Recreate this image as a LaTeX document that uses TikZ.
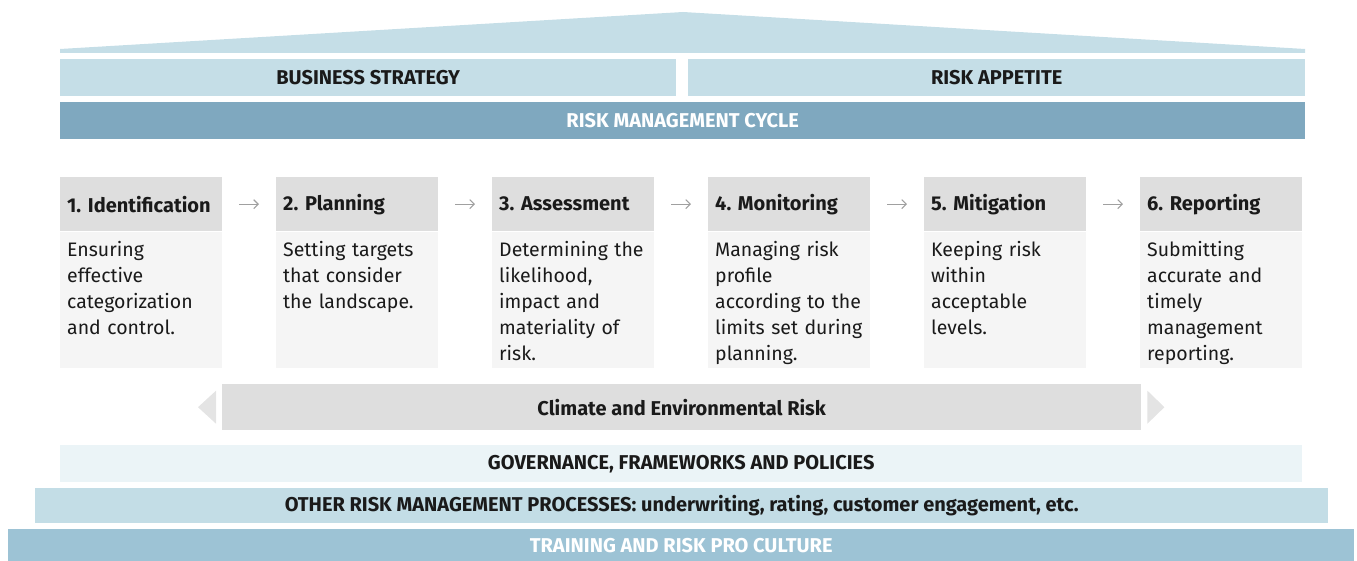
\documentclass[tikz,border=0pt]{standalone}
\usepackage{fontspec}
\setmainfont{Fira Sans}
\usepackage{tikz}
\usetikzlibrary{calc, positioning, arrows.meta}
\usepackage{xcolor}
\definecolor{roofBlue}{HTML}{C5DEE7}
\definecolor{cycleBlue}{HTML}{7FA8BF}
\definecolor{headGray}{HTML}{DEDEDE}
\definecolor{bodyGray}{HTML}{F5F5F5}
\definecolor{govBlue}{HTML}{EBF4F7}
\definecolor{otherBlue}{HTML}{C3DDE6}
\definecolor{trainBlue}{HTML}{9DC3D5}
\definecolor{arrowGray}{HTML}{A0A0A0}
\definecolor{textDark}{HTML}{1A1A1A}
\tikzset{
  bar/.style={inner sep=0pt, anchor=north west, text=textDark,
              font=\fontsize{20}{22}\selectfont\bfseries},
  head/.style={fill=headGray, inner xsep=7pt, inner ysep=0pt, minimum height=54pt,
               text width=148pt, align=left, anchor=north west, text=textDark,
               font=\fontsize{20}{22}\selectfont\bfseries},
  body/.style={fill=bodyGray, inner xsep=7pt, inner ysep=0pt, minimum height=136pt,
               text width=148pt, align=left, text=textDark,
               font=\fontsize{19.5}{26}\selectfont},
  flow/.style={draw=arrowGray, line width=1.1pt, -{Straight Barb[length=4.5pt, width=9pt]},
               shorten <=17pt, shorten >=17pt}
}
\newcommand{\stepbody}[1]{\parbox[c][122pt][t]{148pt}{\raggedright\strut #1}}
\frenchspacing

\begin{document}
\begin{tikzpicture}[x=1pt, y=-1pt]
  \useasboundingbox (0,0) rectangle (1357,561);

  % roof
  \fill[roofBlue] (60,53) -- (60,49) -- (683,12) -- (1305,49) -- (1305,53) -- cycle;

  % top bars
  \node[bar, fill=roofBlue, minimum width=616pt, minimum height=37pt] (strategy) at (60,59) {BUSINESS STRATEGY};
  \node[bar, fill=roofBlue, minimum width=617pt, minimum height=37pt] (appetite) at (688,59) {RISK APPETITE};
  \node[bar, fill=cycleBlue, text=white, minimum width=1245pt, minimum height=37pt] (cycle) at (60,102) {RISK MANAGEMENT CYCLE};

  % cycle steps
  \node[head] (h1) at (60,177)   {1. Identification};
  \node[head] (h2) at (276,177)  {2. Planning};
  \node[head] (h3) at (492,177)  {3. Assessment};
  \node[head] (h4) at (708,177)  {4. Monitoring};
  \node[head] (h5) at (924,177)  {5. Mitigation};
  \node[head] (h6) at (1140,177) {6. Reporting};

  \node[body, below=0pt of h1] (b1) {\stepbody{Ensuring\\effective\\categorization\\and control.}};
  \node[body, below=0pt of h2] (b2) {\stepbody{Setting targets\\that consider\\the landscape.}};
  \node[body, below=0pt of h3] (b3) {\stepbody{Determining the\\likelihood,\\impact and\\materiality of\\risk.}};
  \node[body, below=0pt of h4] (b4) {\stepbody{Managing risk\\profile\\according to the\\limits set during\\planning.}};
  \node[body, below=0pt of h5] (b5) {\stepbody{Keeping risk\\within\\acceptable\\levels.}};
  \node[body, below=0pt of h6] (b6) {\stepbody{Submitting\\accurate and\\timely\\management\\reporting.}};

  \foreach \a/\b in {h1/h2, h2/h3, h3/h4, h4/h5, h5/h6}
    \draw[flow] (\a) -- (\b);

  % climate band
  \node[bar, fill=headGray, minimum width=919pt, minimum height=46pt] (climate) at (222,384) {Climate and Environmental Risk};
  \fill[headGray!80] ($(climate.west)+(-6,-16.5)$) -- ($(climate.west)+(-24,0)$) -- ($(climate.west)+(-6,16.5)$) -- cycle;
  \fill[headGray!80] ($(climate.east)+(6,-16.5)$) -- ($(climate.east)+(23,0)$) -- ($(climate.east)+(6,16.5)$) -- cycle;

  % foundations
  \node[bar, fill=govBlue, minimum width=1242pt, minimum height=37pt] (governance) at (60,445) {GOVERNANCE, FRAMEWORKS AND POLICIES};
  \node[bar, fill=otherBlue, minimum width=1293pt, minimum height=35pt] (processes) at (35,488) {OTHER RISK MANAGEMENT PROCESSES: underwriting, rating, customer engagement, etc.};
  \node[bar, fill=trainBlue, text=white, minimum width=1346pt, minimum height=32pt] (training) at (8,529) {TRAINING AND RISK PRO CULTURE};
\end{tikzpicture}
\end{document}
